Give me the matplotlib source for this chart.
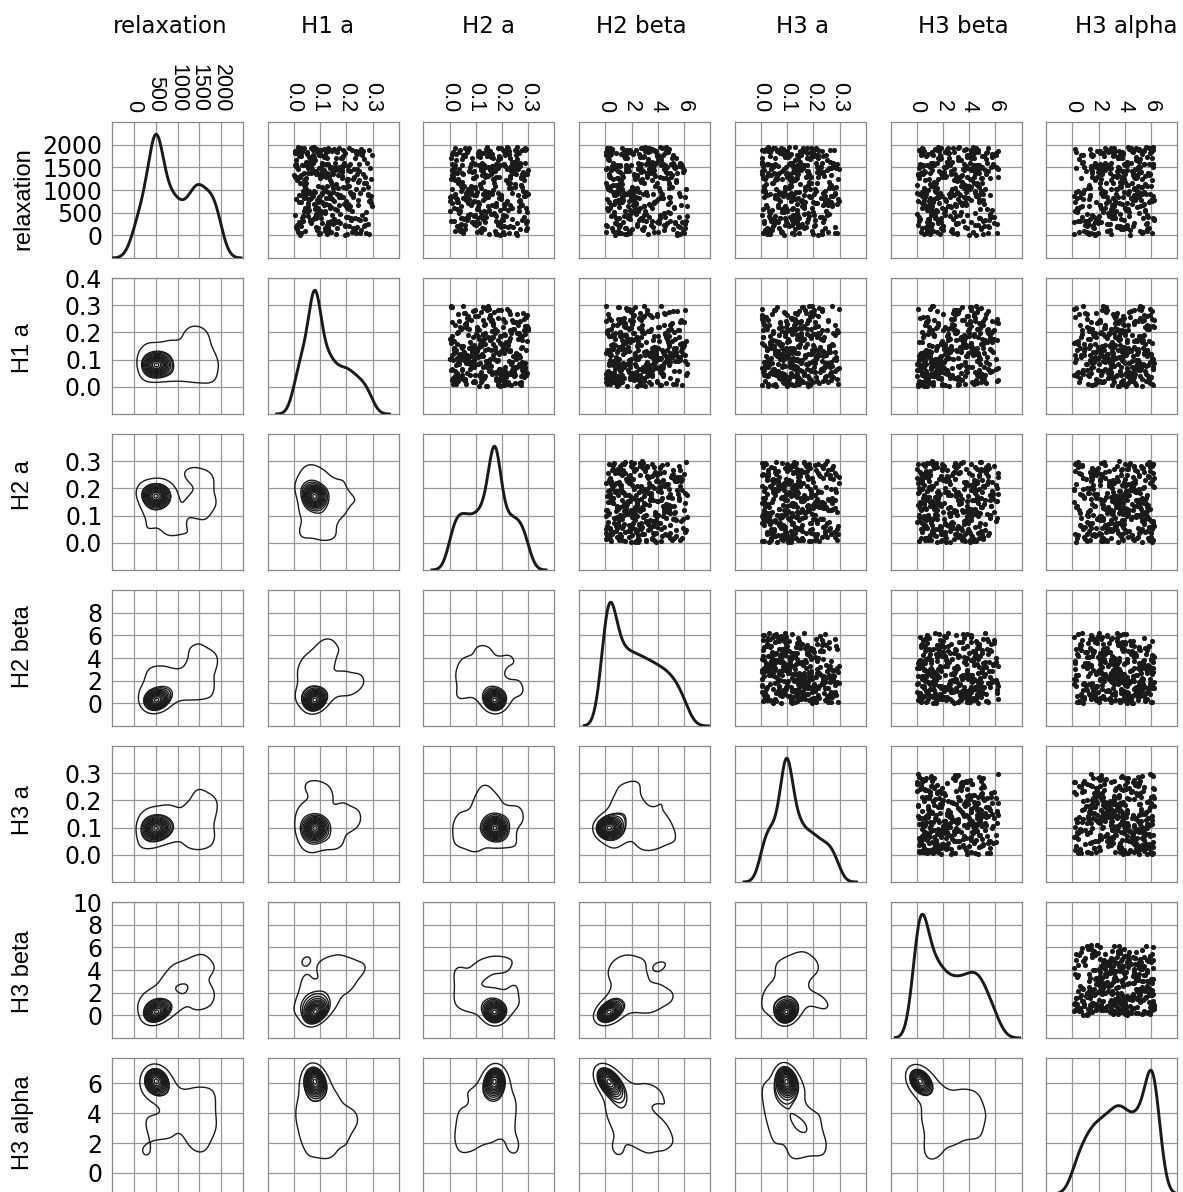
import matplotlib
import numpy as np

matplotlib.use("Agg")  # Non-interactive backend
import matplotlib.pyplot as plt

names = ["relaxation", "H1 a", "H2 a", "H2 beta", "H3 a", "H3 beta", "H3 alpha"]

# sampled parameter sets, estimated from the scatter panels
relaxation = [
    1423, 87, 1766, 512, 1930, 806, 356, 845, 1012, 1871, 243, 1534, 698, 1377, 1489, 431, 902, 1718, 65, 1166,
    615, 1815, 1290, 174, 1583, 933, 1444, 382, 1361, 727, 777, 29, 1155, 1508, 574, 1893, 296, 1246, 858, 1732,
    1399, 208, 1851, 741, 1073, 488, 1562, 136, 1468, 1325, 903, 1789, 377, 1446, 655, 890, 1227, 17, 1905, 822,
    549, 1284, 92, 1957, 960, 1480, 271, 1138, 1834, 660, 1415, 453, 1702, 1589, 781, 1386, 1049, 318, 957, 144,
    1876, 14, 1526, 387, 1763, 612, 1262, 1919, 859, 1451, 235, 1090, 1807, 521, 835, 1372, 995, 1596, 330, 1194,
    1043, 452, 1864, 167, 1497, 710, 1684, 1311, 55, 1541, 983, 1227, 296, 1793, 1538, 604, 1126, 876, 917, 1888,
    425, 1579, 1458, 817, 1261, 193, 872, 638, 1114, 1846, 349, 1487, 746, 1365, 576, 1913, 96, 1021, 1555, 1781,
    118, 1436, 905, 1699, 480, 1297, 1823, 258, 803, 687, 1350, 1927, 39, 1067, 562, 1742, 1514, 971, 1183, 1890,
    1768, 611, 1339, 322, 1391, 1151, 766, 1577, 151, 1856, 396, 1012, 1705, 538, 1419, 929, 948, 1268, 203, 1933,
    73, 1543, 849, 1902, 463, 1216, 761, 217, 1383, 639, 1559, 1121, 779, 1597, 305, 1784, 1302, 1870, 914, 1024,
    356, 1466, 1278, 927, 106, 1614, 585, 1837, 278, 1145, 701, 1501, 1712, 49, 1247, 822, 1898, 437, 1570, 654,
    1455, 736, 1921, 312, 1317, 47, 930, 874, 1862, 502, 1078, 1497, 165, 1548, 686, 1413, 949, 1726, 234, 1164,
    795, 1509, 182, 1806, 663, 1343, 407, 1937, 1213, 249, 1583, 897, 1042, 1765, 529, 1475, 77, 1882, 331, 853,
    23, 1619, 1097, 535, 1844, 705, 1255, 141, 1392, 1908, 369, 1486, 818, 1745, 409, 958, 1363, 612, 1811, 277,
    1751, 598, 1287, 227, 1953, 914, 1528, 441, 1084, 763, 1831, 1406, 58, 1687, 320, 1476, 889, 1563, 186, 496,
    1620, 374, 1044, 1879, 842, 1359, 19, 1710, 565, 1233, 1948, 297, 1467, 715, 1796, 128, 1586, 977, 670, 453,
    985, 1672, 213, 1410, 1862, 627, 1117, 384, 1539, 1499, 752, 1290, 61, 1828, 1604, 505, 1373, 892, 1746, 209,
    1346, 157, 1925, 678, 1582, 429, 1762, 1058, 914, 1443, 273, 1887, 808, 1321, 36, 1656, 545, 1555, 1238, 369,
]
h1_a = [
    0.213, 0.041, 0.118, 0.276, 0.067, 0.009, 0.152, 0.094, 0.237, 0.131, 0.023, 0.182, 0.078, 0.105, 0.289, 0.036, 0.164, 0.057, 0.221, 0.142,
    0.084, 0.195, 0.012, 0.129, 0.247, 0.061, 0.173, 0.031, 0.263, 0.109, 0.088, 0.204, 0.046, 0.137, 0.158, 0.072, 0.019, 0.226, 0.296, 0.114,
    0.146, 0.027, 0.253, 0.091, 0.186, 0.119, 0.004, 0.232, 0.069, 0.167, 0.283, 0.049, 0.103, 0.208, 0.052, 0.139, 0.038, 0.196, 0.081, 0.124,
    0.059, 0.271, 0.133, 0.015, 0.216, 0.098, 0.177, 0.043, 0.121, 0.244, 0.074, 0.006, 0.161, 0.108, 0.292, 0.065, 0.199, 0.033, 0.148, 0.229,
    0.102, 0.024, 0.187, 0.083, 0.259, 0.136, 0.047, 0.211, 0.071, 0.155, 0.011, 0.127, 0.238, 0.096, 0.174, 0.039, 0.117, 0.279, 0.063, 0.202,
    0.168, 0.087, 0.003, 0.224, 0.141, 0.054, 0.268, 0.112, 0.029, 0.193, 0.076, 0.249, 0.131, 0.018, 0.205, 0.092, 0.159, 0.044, 0.107, 0.286,
    0.034, 0.122, 0.241, 0.066, 0.183, 0.009, 0.099, 0.297, 0.144, 0.051, 0.219, 0.171, 0.028, 0.113, 0.082, 0.256, 0.135, 0.042, 0.192, 0.073,
    0.258, 0.116, 0.048, 0.179, 0.085, 0.231, 0.014, 0.149, 0.062, 0.208, 0.126, 0.037, 0.094, 0.281, 0.163, 0.021, 0.138, 0.056, 0.246, 0.189,
    0.097, 0.201, 0.026, 0.143, 0.068, 0.274, 0.154, 0.007, 0.118, 0.236, 0.079, 0.045, 0.185, 0.104, 0.213, 0.058, 0.132, 0.016, 0.266, 0.171,
    0.141, 0.032, 0.227, 0.089, 0.176, 0.012, 0.287, 0.125, 0.053, 0.197, 0.106, 0.041, 0.243, 0.071, 0.161, 0.024, 0.134, 0.095, 0.218, 0.262,
    0.074, 0.168, 0.005, 0.252, 0.119, 0.046, 0.209, 0.087, 0.137, 0.022, 0.191, 0.064, 0.233, 0.101, 0.294, 0.039, 0.152, 0.083, 0.128, 0.216,
    0.229, 0.018, 0.131, 0.061, 0.184, 0.277, 0.109, 0.035, 0.147, 0.092, 0.204, 0.013, 0.166, 0.057, 0.123, 0.248, 0.044, 0.078, 0.195, 0.269,
    0.052, 0.158, 0.239, 0.003, 0.114, 0.086, 0.198, 0.029, 0.139, 0.281, 0.067, 0.176, 0.042, 0.104, 0.221, 0.095, 0.017, 0.145, 0.253, 0.186,
    0.127, 0.069, 0.211, 0.038, 0.163, 0.293, 0.098, 0.011, 0.182, 0.116, 0.245, 0.055, 0.134, 0.027, 0.207, 0.081, 0.151, 0.048, 0.261, 0.107,
    0.188, 0.043, 0.121, 0.273, 0.076, 0.226, 0.008, 0.146, 0.093, 0.199, 0.031, 0.112, 0.251, 0.061, 0.169, 0.137, 0.019, 0.214, 0.084, 0.103,
    0.062, 0.234, 0.149, 0.021, 0.178, 0.091, 0.286, 0.128, 0.047, 0.203, 0.071, 0.157, 0.014, 0.111, 0.242, 0.088, 0.193, 0.036, 0.133, 0.259,
    0.115, 0.007, 0.196, 0.083, 0.264, 0.142, 0.039, 0.218, 0.058, 0.174, 0.101, 0.024, 0.237, 0.097, 0.155, 0.049, 0.126, 0.282, 0.072, 0.209,
    0.241, 0.093, 0.016, 0.172, 0.129, 0.054, 0.297, 0.108, 0.033, 0.185, 0.066, 0.222, 0.144, 0.002, 0.159, 0.079, 0.117, 0.044, 0.206, 0.271,
]
h2_a = [
    0.172, 0.038, 0.254, 0.119, 0.287, 0.063, 0.201, 0.145, 0.011, 0.228, 0.092, 0.166, 0.271, 0.027, 0.133, 0.215, 0.079, 0.189, 0.104, 0.046,
    0.263, 0.128, 0.014, 0.197, 0.081, 0.239, 0.156, 0.043, 0.294, 0.108, 0.061, 0.182, 0.221, 0.136, 0.029, 0.248, 0.097, 0.164, 0.005, 0.116,
    0.087, 0.209, 0.151, 0.033, 0.276, 0.124, 0.192, 0.058, 0.243, 0.009, 0.141, 0.226, 0.071, 0.299, 0.176, 0.102, 0.019, 0.258, 0.139, 0.052,
    0.149, 0.281, 0.022, 0.218, 0.066, 0.185, 0.113, 0.251, 0.037, 0.162, 0.094, 0.203, 0.007, 0.267, 0.126, 0.049, 0.234, 0.178, 0.083, 0.131,
    0.041, 0.194, 0.268, 0.107, 0.153, 0.016, 0.232, 0.074, 0.289, 0.121, 0.183, 0.055, 0.211, 0.138, 0.002, 0.247, 0.167, 0.089, 0.276, 0.031,
    0.225, 0.072, 0.143, 0.297, 0.018, 0.177, 0.256, 0.101, 0.051, 0.209, 0.134, 0.284, 0.086, 0.024, 0.161, 0.238, 0.115, 0.196, 0.063, 0.147,
    0.118, 0.259, 0.035, 0.187, 0.091, 0.224, 0.012, 0.146, 0.273, 0.068, 0.204, 0.155, 0.029, 0.241, 0.109, 0.291, 0.174, 0.047, 0.129, 0.213,
    0.293, 0.008, 0.163, 0.229, 0.077, 0.137, 0.264, 0.044, 0.198, 0.112, 0.252, 0.021, 0.181, 0.096, 0.222, 0.058, 0.145, 0.279, 0.126, 0.069,
    0.054, 0.236, 0.122, 0.015, 0.281, 0.169, 0.093, 0.207, 0.039, 0.258, 0.138, 0.076, 0.191, 0.003, 0.244, 0.157, 0.104, 0.271, 0.032, 0.186,
    0.202, 0.131, 0.064, 0.287, 0.158, 0.026, 0.219, 0.099, 0.246, 0.173, 0.049, 0.117, 0.267, 0.085, 0.193, 0.011, 0.232, 0.142, 0.298, 0.071,
    0.127, 0.017, 0.274, 0.184, 0.053, 0.238, 0.106, 0.152, 0.291, 0.033, 0.211, 0.079, 0.166, 0.255, 0.004, 0.134, 0.223, 0.095, 0.179, 0.042,
    0.261, 0.088, 0.195, 0.006, 0.148, 0.227, 0.062, 0.284, 0.114, 0.037, 0.172, 0.249, 0.124, 0.019, 0.206, 0.073, 0.293, 0.159, 0.101, 0.231,
    0.028, 0.166, 0.243, 0.111, 0.082, 0.289, 0.137, 0.057, 0.214, 0.183, 0.009, 0.262, 0.098, 0.154, 0.041, 0.227, 0.121, 0.277, 0.068, 0.198,
    0.177, 0.249, 0.045, 0.132, 0.216, 0.011, 0.094, 0.268, 0.161, 0.067, 0.239, 0.119, 0.024, 0.188, 0.283, 0.146, 0.053, 0.207, 0.107, 0.256,
    0.109, 0.292, 0.188, 0.059, 0.141, 0.021, 0.233, 0.174, 0.081, 0.264, 0.013, 0.128, 0.203, 0.046, 0.297, 0.157, 0.092, 0.241, 0.036, 0.168,
    0.244, 0.061, 0.119, 0.203, 0.007, 0.277, 0.149, 0.084, 0.192, 0.031, 0.258, 0.136, 0.219, 0.072, 0.163, 0.115, 0.286, 0.044, 0.229, 0.097,
    0.082, 0.185, 0.027, 0.236, 0.156, 0.108, 0.271, 0.049, 0.213, 0.131, 0.002, 0.179, 0.253, 0.066, 0.124, 0.294, 0.017, 0.197, 0.143, 0.232,
    0.159, 0.034, 0.221, 0.275, 0.097, 0.176, 0.052, 0.248, 0.126, 0.011, 0.192, 0.289, 0.074, 0.139, 0.207, 0.023, 0.263, 0.113, 0.168, 0.056,
]
h2_beta = [
    3.47, 0.62, 5.18, 1.93, 4.36, 0.15, 2.71, 6.12, 1.24, 3.85, 0.89, 5.63, 2.34, 4.72, 1.57, 0.41, 3.09, 2.88, 4.05, 5.41,
    1.08, 4.58, 0.33, 2.96, 5.77, 1.71, 3.62, 0.84, 2.19, 4.91, 1.36, 3.28, 0.07, 5.24, 2.53, 1.89, 3.94, 0.56, 4.27, 2.65,
    5.92, 2.43, 0.28, 3.71, 1.16, 4.49, 0.93, 2.07, 3.33, 5.06, 1.62, 0.47, 4.14, 2.82, 6.21, 1.45, 3.58, 0.71, 4.83, 2.26,
    0.19, 3.16, 1.83, 4.64, 2.58, 0.76, 5.33, 1.29, 3.89, 0.44, 2.91, 4.21, 1.52, 5.68, 0.97, 3.44, 2.13, 4.97, 1.05, 2.77,
    2.38, 5.51, 0.53, 1.74, 3.97, 0.11, 4.43, 2.69, 1.31, 6.04, 3.52, 0.86, 2.02, 4.78, 1.98, 3.21, 0.35, 5.15, 2.84, 1.12,
    4.12, 0.68, 3.03, 1.47, 5.86, 2.31, 0.24, 3.77, 1.91, 4.56, 0.92, 2.62, 5.29, 1.18, 3.41, 0.39, 4.89, 2.16, 3.66, 1.63,
    1.39, 3.82, 0.08, 2.54, 4.67, 1.01, 5.72, 2.98, 0.61, 3.26, 4.08, 1.76, 0.32, 5.47, 2.23, 3.59, 0.99, 6.18, 1.58, 4.41,
    2.89, 0.46, 4.31, 1.67, 3.14, 5.03, 0.79, 2.41, 1.22, 4.76, 3.68, 0.13, 5.58, 2.05, 1.86, 3.91, 0.57, 4.19, 2.74, 1.43,
    0.37, 5.21, 2.17, 3.53, 1.09, 4.84, 0.72, 2.76, 6.09, 1.54, 3.37, 0.18, 4.02, 2.49, 1.81, 5.65, 3.08, 0.94, 4.53, 1.27,
    3.72, 1.15, 4.95, 0.51, 2.36, 5.37, 1.78, 0.04, 3.19, 2.93, 4.28, 0.83, 1.34, 3.86, 5.82, 2.61, 0.27, 4.63, 1.96, 2.12,
    0.89, 2.52, 4.16, 1.41, 5.96, 3.27, 0.22, 1.88, 4.71, 2.99, 0.64, 3.63, 5.12, 1.03, 2.27, 4.39, 0.45, 6.23, 3.48, 1.71,
    4.47, 1.26, 0.35, 3.08, 2.44, 5.49, 0.78, 1.93, 3.79, 4.93, 0.12, 2.68, 1.57, 5.21, 3.35, 0.96, 2.03, 4.24, 1.11, 3.96,
    2.01, 0.57, 5.74, 1.63, 3.45, 0.26, 4.58, 2.83, 1.19, 6.06, 3.12, 0.74, 2.39, 4.02, 1.48, 5.33, 0.09, 3.71, 2.57, 4.86,
    1.52, 3.94, 0.41, 2.26, 4.79, 1.07, 0.93, 5.16, 2.71, 3.33, 1.86, 0.16, 4.34, 2.95, 5.61, 0.62, 1.29, 3.57, 2.14, 4.12,
    0.31, 2.66, 1.38, 4.49, 3.01, 0.87, 5.87, 1.74, 3.81, 2.18, 0.05, 4.66, 1.21, 3.29, 6.14, 2.47, 0.69, 5.04, 3.63, 1.95,
    3.56, 1.02, 4.87, 0.48, 2.33, 3.18, 1.69, 5.42, 0.21, 2.79, 4.15, 1.35, 0.83, 3.74, 2.08, 4.51, 0.58, 1.92, 5.79, 2.94,
    2.29, 4.22, 0.14, 1.57, 3.41, 5.26, 0.96, 2.72, 1.13, 4.69, 3.87, 0.39, 6.02, 1.84, 2.51, 0.66, 4.97, 3.15, 1.46, 5.53,
    1.24, 0.52, 3.36, 2.11, 4.44, 1.78, 0.03, 5.09, 2.86, 3.69, 0.77, 1.41, 4.06, 2.42, 5.71, 0.29, 3.02, 1.99, 4.81, 2.63,
]
h3_a = [
    0.134, 0.021, 0.248, 0.087, 0.176, 0.293, 0.043, 0.119, 0.205, 0.062, 0.157, 0.009, 0.271, 0.098, 0.222, 0.141, 0.035, 0.189, 0.076, 0.258,
    0.063, 0.197, 0.114, 0.281, 0.028, 0.236, 0.152, 0.091, 0.005, 0.168, 0.243, 0.127, 0.047, 0.212, 0.079, 0.262, 0.138, 0.017, 0.184, 0.103,
    0.226, 0.148, 0.012, 0.268, 0.093, 0.179, 0.056, 0.131, 0.297, 0.039, 0.201, 0.116, 0.074, 0.252, 0.163, 0.024, 0.109, 0.219, 0.085, 0.143,
    0.042, 0.171, 0.233, 0.106, 0.069, 0.286, 0.137, 0.018, 0.192, 0.254, 0.081, 0.124, 0.003, 0.209, 0.157, 0.051, 0.274, 0.096, 0.146, 0.031,
    0.277, 0.089, 0.153, 0.036, 0.216, 0.121, 0.058, 0.189, 0.245, 0.011, 0.142, 0.264, 0.073, 0.198, 0.104, 0.027, 0.168, 0.231, 0.049, 0.117,
    0.108, 0.253, 0.026, 0.164, 0.097, 0.207, 0.139, 0.062, 0.291, 0.177, 0.014, 0.128, 0.238, 0.084, 0.045, 0.195, 0.149, 0.266, 0.071, 0.002,
    0.185, 0.054, 0.129, 0.229, 0.007, 0.146, 0.083, 0.272, 0.111, 0.033, 0.208, 0.161, 0.246, 0.067, 0.119, 0.019, 0.194, 0.092, 0.284, 0.136,
    0.016, 0.221, 0.078, 0.143, 0.259, 0.101, 0.174, 0.048, 0.132, 0.289, 0.059, 0.211, 0.024, 0.167, 0.098, 0.237, 0.124, 0.006, 0.182, 0.068,
    0.154, 0.094, 0.267, 0.038, 0.123, 0.191, 0.072, 0.005, 0.243, 0.148, 0.112, 0.057, 0.219, 0.031, 0.176, 0.281, 0.087, 0.138, 0.203, 0.044,
    0.081, 0.139, 0.013, 0.206, 0.165, 0.052, 0.298, 0.118, 0.227, 0.093, 0.037, 0.181, 0.256, 0.109, 0.066, 0.149, 0.021, 0.234, 0.127, 0.188,
    0.242, 0.037, 0.186, 0.115, 0.075, 0.263, 0.008, 0.152, 0.099, 0.214, 0.137, 0.046, 0.174, 0.282, 0.061, 0.121, 0.197, 0.029, 0.105, 0.158,
    0.126, 0.198, 0.053, 0.011, 0.239, 0.144, 0.086, 0.276, 0.169, 0.034, 0.113, 0.221, 0.068, 0.155, 0.249, 0.003, 0.132, 0.091, 0.207, 0.042,
    0.064, 0.272, 0.142, 0.101, 0.018, 0.183, 0.227, 0.077, 0.125, 0.049, 0.291, 0.163, 0.011, 0.209, 0.096, 0.146, 0.254, 0.039, 0.118, 0.186,
    0.197, 0.005, 0.113, 0.247, 0.068, 0.159, 0.134, 0.028, 0.214, 0.083, 0.178, 0.269, 0.054, 0.106, 0.232, 0.015, 0.141, 0.089, 0.193, 0.122,
    0.033, 0.166, 0.219, 0.091, 0.128, 0.283, 0.047, 0.201, 0.012, 0.153, 0.076, 0.238, 0.117, 0.187, 0.059, 0.261, 0.104, 0.024, 0.171, 0.137,
    0.148, 0.072, 0.258, 0.014, 0.191, 0.109, 0.231, 0.055, 0.138, 0.294, 0.027, 0.174, 0.087, 0.212, 0.151, 0.041, 0.119, 0.246, 0.066, 0.002,
    0.211, 0.131, 0.044, 0.179, 0.098, 0.022, 0.267, 0.146, 0.063, 0.228, 0.114, 0.189, 0.008, 0.157, 0.276, 0.082, 0.135, 0.052, 0.203, 0.107,
    0.095, 0.024, 0.162, 0.236, 0.117, 0.052, 0.196, 0.287, 0.069, 0.143, 0.011, 0.218, 0.124, 0.178, 0.036, 0.253, 0.101, 0.164, 0.079, 0.129,
]
h3_beta = [
    4.63, 1.27, 0.35, 2.88, 5.41, 3.19, 0.92, 1.74, 4.08, 2.23, 6.11, 0.47, 3.76, 1.05, 4.91, 2.56, 0.16, 5.77, 1.58, 3.42,
    0.73, 2.41, 4.37, 1.12, 3.58, 0.06, 5.23, 1.89, 2.96, 4.72, 0.54, 3.04, 1.46, 5.68, 2.17, 4.19, 0.88, 1.61, 4.55, 3.83,
    2.07, 5.14, 0.28, 3.67, 1.33, 4.46, 0.81, 2.72, 6.19, 1.95, 3.26, 0.41, 4.84, 1.18, 2.39, 5.56, 0.63, 4.02, 1.71, 3.91,
    1.49, 3.13, 0.97, 4.28, 2.64, 0.19, 5.87, 1.02, 4.67, 3.49, 0.58, 2.14, 1.83, 5.36, 4.11, 0.32, 2.91, 1.66, 3.74, 4.89,
    0.44, 4.52, 2.33, 1.38, 3.87, 0.71, 5.02, 2.79, 1.91, 4.16, 0.09, 3.35, 6.07, 1.24, 2.51, 4.77, 0.86, 1.57, 5.49, 3.11,
    3.62, 1.08, 0.55, 4.94, 2.27, 1.73, 5.31, 0.14, 3.06, 4.41, 1.42, 2.86, 0.78, 4.23, 5.84, 1.96, 3.54, 0.37, 2.44, 4.69,
    2.98, 0.23, 4.06, 1.54, 5.63, 3.71, 0.67, 1.19, 4.58, 2.18, 0.94, 6.16, 3.29, 1.87, 4.82, 0.51, 2.61, 5.19, 1.31, 3.97,
    0.82, 4.31, 1.63, 2.47, 0.03, 3.86, 5.27, 1.14, 4.79, 2.93, 0.46, 3.17, 1.79, 4.12, 5.71, 0.69, 2.06, 4.48, 1.35, 3.59,
    1.76, 0.38, 3.44, 5.09, 2.12, 4.64, 0.91, 1.28, 3.81, 6.23, 0.17, 2.69, 4.37, 1.52, 5.44, 0.74, 3.08, 4.93, 1.97, 2.36,
    4.27, 2.58, 0.61, 1.41, 5.58, 3.23, 0.12, 4.71, 1.86, 2.99, 0.48, 3.66, 5.05, 1.09, 4.14, 0.87, 2.21, 1.68, 4.86, 3.94,
    0.26, 3.52, 1.95, 4.42, 0.79, 2.31, 5.34, 1.16, 3.02, 4.97, 0.57, 6.03, 1.62, 2.77, 4.09, 0.98, 3.73, 1.37, 5.81, 2.52,
    2.84, 1.21, 4.53, 0.15, 3.36, 5.44, 1.77, 0.66, 4.18, 2.09, 3.91, 1.04, 0.42, 4.76, 5.12, 2.63, 1.49, 3.18, 0.89, 4.34,
    1.33, 4.88, 0.71, 2.46, 3.79, 0.08, 5.66, 1.82, 4.24, 2.97, 1.06, 3.27, 0.53, 6.09, 2.15, 4.61, 0.34, 1.58, 5.21, 3.64,
    0.59, 2.73, 4.02, 1.29, 5.38, 3.47, 0.21, 1.93, 4.67, 2.28, 0.86, 3.84, 1.47, 4.95, 5.91, 0.37, 2.59, 1.11, 4.39, 3.13,
    3.98, 0.94, 2.19, 4.46, 1.64, 5.03, 0.27, 3.31, 1.09, 4.83, 2.88, 0.62, 6.14, 1.78, 3.56, 4.21, 0.45, 2.42, 5.52, 1.36,
    2.35, 4.73, 1.52, 0.18, 3.69, 5.26, 1.01, 4.12, 0.77, 2.91, 3.22, 1.88, 4.57, 0.43, 5.74, 2.04, 1.27, 4.89, 0.96, 3.85,
    0.68, 3.15, 5.47, 1.73, 4.36, 2.62, 0.04, 1.44, 3.78, 4.99, 2.27, 6.21, 0.81, 1.19, 4.05, 3.41, 0.33, 2.83, 5.16, 1.97,
    4.44, 1.86, 0.39, 3.01, 2.56, 5.59, 1.23, 4.79, 0.72, 3.63, 1.59, 4.18, 2.14, 0.11, 5.07, 3.37, 1.05, 4.63, 0.94, 2.75,
]
h3_alpha = [
    3.42, 5.17, 0.63, 4.29, 2.51, 6.08, 1.36, 3.88, 4.74, 2.07, 5.62, 1.81, 3.15, 1.46, 0.27, 2.83, 5.35, 3.61, 1.12, 4.03,
    4.91, 2.36, 3.77, 1.58, 5.44, 0.84, 4.18, 3.02, 5.91, 2.64, 6.21, 1.27, 4.57, 3.49, 0.41, 5.06, 2.19, 3.93, 2.32, 5.73,
    1.94, 4.62, 3.26, 0.17, 5.28, 2.73, 4.09, 3.84, 1.45, 5.83, 2.29, 1.41, 6.13, 3.57, 0.76, 4.86, 2.92, 1.69, 5.12, 3.11,
    5.53, 3.37, 0.92, 4.23, 2.46, 4.97, 1.18, 3.71, 5.99, 2.11, 4.55, 3.04, 6.04, 1.73, 5.21, 2.87, 2.12, 0.58, 3.96, 5.68,
    2.58, 4.36, 1.63, 5.39, 3.19, 0.35, 4.78, 2.94, 6.17, 3.66, 1.21, 5.02, 2.07, 2.33, 3.48, 5.76, 0.88, 4.51, 1.97, 3.82,
    4.68, 1.49, 3.53, 5.86, 2.24, 4.15, 0.52, 3.09, 5.31, 2.79, 4.94, 6.11, 1.88, 3.74, 1.43, 2.52, 5.58, 0.13, 3.34, 5.07,
    3.13, 5.49, 2.02, 4.84, 0.69, 3.91, 1.34, 5.14, 4.26, 2.68, 6.24, 3.58, 1.77, 4.59, 2.91, 0.22, 5.71, 3.37, 4.01, 1.56,
    4.38, 2.17, 5.64, 3.46, 1.09, 4.72, 5.93, 2.85, 0.81, 3.79, 2.21, 6.02, 1.62, 5.26, 3.06, 2.39, 4.97, 0.46, 3.64, 5.43,
    1.41, 3.98, 4.63, 0.94, 5.22, 2.56, 3.27, 6.16, 4.09, 1.86, 5.78, 2.97, 3.55, 0.31, 1.47, 2.22, 5.04, 3.81, 1.15, 4.86,
    5.37, 2.71, 0.57, 4.33, 3.62, 1.73, 5.96, 4.14, 2.28, 3.19, 6.09, 1.28, 4.79, 2.94, 0.16, 3.86, 5.51, 4.52, 2.43, 3.35,
    3.73, 4.92, 1.52, 5.18, 2.64, 0.79, 4.27, 3.04, 5.67, 2.13, 4.58, 6.19, 3.49, 1.94, 5.33, 0.38, 2.86, 2.06, 3.91, 1.26,
    2.49, 5.81, 4.44, 1.11, 3.28, 6.06, 0.66, 4.71, 2.98, 5.09, 3.67, 1.83, 4.16, 2.37, 5.47, 3.83, 0.24, 4.89, 1.59, 3.12,
    4.56, 0.87, 3.41, 5.29, 2.09, 4.02, 1.68, 5.86, 3.76, 2.61, 6.13, 1.35, 1.22, 3.17, 5.55, 2.83, 0.49, 4.73, 3.94, 5.11,
    1.79, 4.18, 5.72, 3.33, 0.28, 2.54, 4.87, 3.69, 5.24, 1.36, 6.22, 2.92, 4.49, 3.08, 0.74, 5.43, 2.26, 4.01, 3.86, 1.98,
    3.55, 2.18, 4.94, 0.98, 5.61, 4.23, 1.47, 3.14, 6.01, 2.77, 4.62, 3.89, 1.14, 5.18, 0.42, 2.41, 2.36, 5.83, 3.47, 2.96,
    5.06, 3.22, 1.33, 4.51, 2.63, 5.91, 0.09, 3.78, 4.08, 2.19, 6.14, 1.76, 4.76, 3.53, 5.34, 2.88, 0.71, 4.29, 3.01, 5.69,
    2.34, 4.82, 3.64, 1.02, 5.47, 0.61, 4.13, 3.27, 2.79, 5.14, 6.06, 1.91, 1.44, 3.81, 2.52, 0.33, 5.78, 4.67, 1.49, 3.43,
    4.97, 1.64, 3.16, 5.36, 2.07, 4.31, 0.84, 3.72, 5.89, 2.46, 4.69, 6.18, 1.28, 3.51, 2.97, 5.02, 0.19, 4.18, 3.93, 1.83,
]

# the search keeps returning to one parameter set, stacked n_best times
best = [510, 0.080, 0.172, 0.20, 0.097, 0.20, 6.20]
n_best = 80

col_lims = [(-500, 2500), (-0.1, 0.4), (-0.1, 0.4), (-2, 8), (-0.1, 0.4), (-2, 8), (-2, 8)]
col_ticks = [
    [0, 500, 1000, 1500, 2000],
    [0.0, 0.1, 0.2, 0.3],
    [0.0, 0.1, 0.2, 0.3],
    [0, 2, 4, 6],
    [0.0, 0.1, 0.2, 0.3],
    [0, 2, 4, 6],
    [0, 2, 4, 6],
]
row_lims = [(-500, 2500), (-0.1, 0.4), (-0.1, 0.4), (-2, 10), (-0.1, 0.4), (-2, 10), (-1.41, 7.69)]
row_ticks = [
    [0, 500, 1000, 1500, 2000],
    [0.0, 0.1, 0.2, 0.3, 0.4],
    [0.0, 0.1, 0.2, 0.3],
    [0, 2, 4, 6, 8],
    [0.0, 0.1, 0.2, 0.3],
    [0, 2, 4, 6, 8, 10],
    [0, 2, 4, 6],
]
tick_fmt = ["{:.0f}", "{:.1f}", "{:.1f}", "{:.0f}", "{:.1f}", "{:.0f}", "{:.0f}"]

# layout in pixels of the 1183 x 1192 canvas
W, H = 1183, 1192
title_x = [170, 328, 489, 641, 802, 963, 1126]
label_y = [199, 348, 485, 647, 810, 972, 1123]

INK = "#1a1a1a"
GRID = "#999999"


def kde_1d(v, grid):
    bw = v.std(ddof=1) * len(v) ** (-1 / 5)
    z = (grid[:, None] - v[None, :]) / bw
    return np.exp(-0.5 * z ** 2).sum(axis=1) / (len(v) * bw * np.sqrt(2 * np.pi))


def kde_2d(x, y, X, Y):
    n = len(x)
    cov = np.cov(np.vstack([x, y])) * n ** (-2 / 6)  # Scott factor, d=2
    inv = np.linalg.inv(cov)
    dens = np.zeros_like(X)
    for xi, yi in zip(x, y):
        dx = X - xi
        dy = Y - yi
        dens += np.exp(-0.5 * (inv[0, 0] * dx * dx + 2 * inv[0, 1] * dx * dy + inv[1, 1] * dy * dy))
    return dens / (2 * np.pi * np.sqrt(np.linalg.det(cov)) * n)


columns = [relaxation, h1_a, h2_a, h2_beta, h3_a, h3_beta, h3_alpha]
n_rows = min(len(c) for c in columns)
samples = [np.asarray(c[:n_rows], float) for c in columns]
data = [np.concatenate([s, np.full(n_best, b)]) for s, b in zip(samples, best)]

fig = plt.figure(figsize=(W / 100, H / 100), dpi=100)

for i in range(7):
    for j in range(7):
        left = (112 + 155.7 * j) / W
        bottom = 1 - (122 + 156 * i + 136) / H
        ax = fig.add_axes([left, bottom, 131 / W, 136 / H])
        ax.set_xlim(*col_lims[j])
        ax.set_ylim(*row_lims[i])
        ax.set_xticks(col_ticks[j])
        ax.set_yticks(row_ticks[i])
        ax.grid(True, color=GRID, lw=0.9)
        ax.set_axisbelow(True)
        for sp in ax.spines.values():
            sp.set_color("#888888")
            sp.set_linewidth(0.9)
        ax.tick_params(length=0, labelbottom=False, labelleft=False)

        if i == 0:
            ax.tick_params(axis="x", top=True, labeltop=True, pad=7)
            ax.set_xticklabels([tick_fmt[j].format(t) for t in col_ticks[j]],
                               rotation=-90, fontsize=15.5, family="Liberation Sans")
        if j == 0:
            ax.tick_params(axis="y", labelleft=True, pad=7)
            ax.set_yticklabels([tick_fmt[i].format(t) for t in row_ticks[i]], fontsize=17)

        x, y = data[j], data[i]
        if i == j:
            bw = x.std(ddof=1) * len(x) ** (-1 / 5)
            grid = np.linspace(x.min() - 3 * bw, x.max() + 3 * bw, 300)
            dens = kde_1d(x, grid)
            kax = ax.twinx()
            kax.plot(grid, dens, color=INK, lw=2.1)
            kax.set_ylim(0, dens.max() / 0.91)
            kax.set_yticks([])
            for sp in kax.spines.values():
                sp.set_visible(False)
        elif j > i:
            ax.scatter(samples[j], samples[i], s=14, color=INK, linewidths=0)
        else:
            gx = np.linspace(*col_lims[j], 150)
            gy = np.linspace(*row_lims[i], 150)
            X, Y = np.meshgrid(gx, gy)
            z = kde_2d(x, y, X, Y)
            inside = ((X >= samples[j].min()) & (X <= samples[j].max())
                      & (Y >= samples[i].min()) & (Y <= samples[i].max()))
            base = np.median(z[inside])
            top = z.max()
            rings = base + (top - base) * np.linspace(0.1, 0.97, 13)
            levels = [base, 1.9 * base] + [r for r in rings if r > 1.9 * base]
            ax.contour(X, Y, z, levels=levels, colors=INK, linewidths=1.0)

for j, name in enumerate(names):
    fig.text(title_x[j] / W, 1 - 33 / H, name, ha="center", va="baseline", fontsize=16.5)
for i, name in enumerate(names):
    fig.text(23 / W, 1 - label_y[i] / H, name, rotation=90, ha="center", va="center",
             fontsize=17, family="Liberation Sans")

fig.savefig("out.png", dpi=100)
plt.close(fig)
